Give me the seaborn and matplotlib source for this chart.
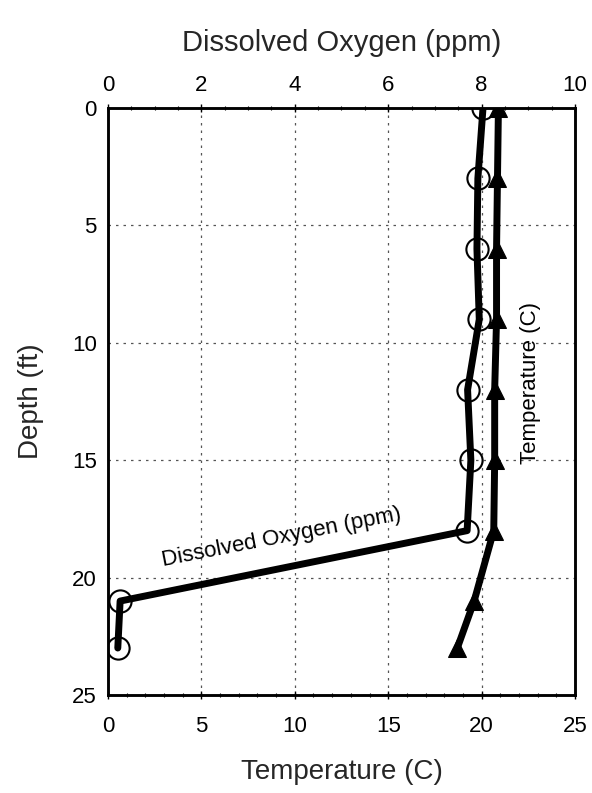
import matplotlib
matplotlib.use("Agg")
import matplotlib.pyplot as plt
import seaborn as sns
import pandas as pd
from matplotlib.ticker import MultipleLocator

sns.set_theme(style="white")
plt.rcParams['font.family'] = ['Liberation Sans', 'DejaVu Sans']

depth_do = [0, 3, 6, 9, 12, 15, 18, 21, 23]
dissolved_oxygen = [8.03, 7.92, 7.9, 7.95, 7.7, 7.77, 7.69, 0.26, 0.21]
depth_temp = [0, 3, 6, 9, 12, 15, 18, 21, 23]
temperature = [20.9, 20.85, 20.8, 20.8, 20.7, 20.7, 20.65, 19.6, 18.7]

df_t = pd.DataFrame({"Depth": depth_temp, "Temp": temperature})
df_o = pd.DataFrame({"Depth": depth_do, "DO": dissolved_oxygen})

fig = plt.figure(figsize=(5.92, 7.93), dpi=100)
ax = fig.add_axes([0.1824, 0.1236, 0.9713 - 0.1824, 0.8638 - 0.1236])
ax2 = ax.twiny()

sns.lineplot(data=df_t, x="Temp", y="Depth", orient="y", sort=False, ax=ax,
             color="black", lw=5, marker="^", markersize=13,
             markeredgecolor="black", markerfacecolor="black")
sns.lineplot(data=df_o, x="DO", y="Depth", orient="y", sort=False, ax=ax2,
             color="black", lw=5, marker="o", markersize=16,
             markeredgecolor="black", markerfacecolor="none", markeredgewidth=1.5)

ax.set_xlim(0, 25)
ax.set_ylim(25, 0)
ax2.set_xlim(0, 10)
ax2.set_ylim(25, 0)

ax.xaxis.set_major_locator(MultipleLocator(5))
ax.xaxis.set_minor_locator(MultipleLocator(1))
ax.yaxis.set_major_locator(MultipleLocator(5))
ax.yaxis.set_minor_locator(MultipleLocator(1))
ax2.xaxis.set_major_locator(MultipleLocator(2))
ax2.xaxis.set_minor_locator(MultipleLocator(0.5))

for a in (ax, ax2):
    a.tick_params(which="major", direction="inout", length=6, width=1, colors="black", labelsize=16)
    a.tick_params(which="minor", direction="inout", length=3, width=0.8, colors="black")
    for s in a.spines.values():
        s.set_color("black")
        s.set_linewidth(1.8)
ax.tick_params(axis="x", which="major", pad=12)
ax.tick_params(axis="y", which="major", pad=5)
ax2.tick_params(axis="x", which="major", pad=6)

ax.grid(True, which="major", linestyle=(0, (2, 4)), color="#555555", lw=0.9)
ax2.grid(False)

ax.set_xlabel("Temperature (C)", fontsize=20, labelpad=16)
ax.set_ylabel("Depth (ft)", fontsize=20, labelpad=20)
ax2.set_xlabel("Dissolved Oxygen (ppm)", fontsize=21, labelpad=17)

ax.text(9.3, 18.3, "Dissolved Oxygen (ppm)", fontsize=16, rotation=11,
        ha="center", va="center", color="black")
ax.text(22.6, 11.7, "Temperature (C)", fontsize=16, rotation=90,
        ha="center", va="center", color="black")

fig.savefig("out.png", dpi=100)
